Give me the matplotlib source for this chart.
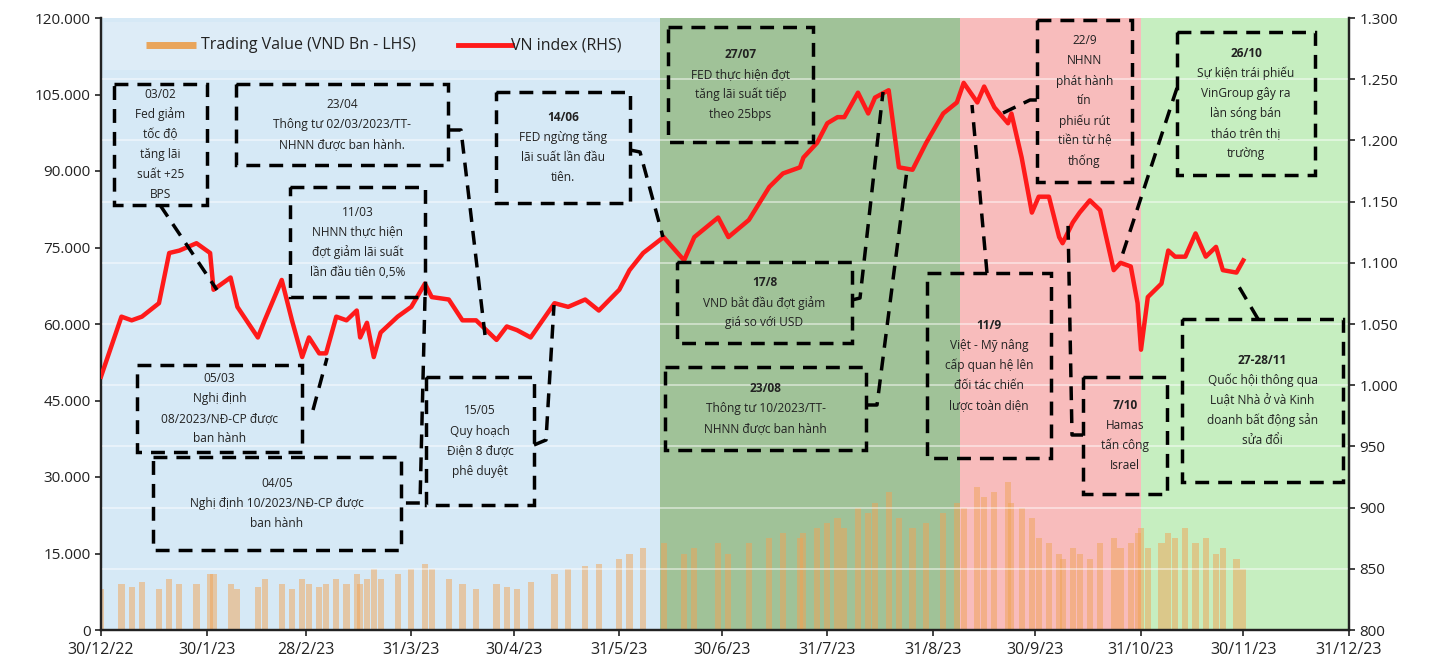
import matplotlib
matplotlib.use('Agg')
import matplotlib.pyplot as plt
import pandas as pd
from matplotlib.patches import Rectangle
from matplotlib.lines import Line2D

plt.rcParams['font.family'] = ['Open Sans', 'DejaVu Sans']

# ---------------- data ----------------
dates = ['2022-12-30', '2023-01-05', '2023-01-08', '2023-01-11', '2023-01-16', '2023-01-19', '2023-01-22',
         '2023-01-27', '2023-01-31',
         '2023-02-01', '2023-02-06', '2023-02-08', '2023-02-14', '2023-02-16', '2023-02-21', '2023-02-24',
         '2023-02-27',
         '2023-03-01', '2023-03-04', '2023-03-06', '2023-03-09', '2023-03-12', '2023-03-15', '2023-03-16',
         '2023-03-18', '2023-03-20', '2023-03-22', '2023-03-27', '2023-03-31',
         '2023-04-04', '2023-04-06', '2023-04-11', '2023-04-15', '2023-04-19', '2023-04-25', '2023-04-28',
         '2023-05-01', '2023-05-05', '2023-05-12', '2023-05-16', '2023-05-21', '2023-05-25', '2023-05-31',
         '2023-06-03', '2023-06-07', '2023-06-13', '2023-06-19', '2023-06-22', '2023-06-29',
         '2023-07-02', '2023-07-08', '2023-07-14', '2023-07-18', '2023-07-23', '2023-07-24', '2023-07-28',
         '2023-07-31',
         '2023-08-03', '2023-08-05', '2023-08-09', '2023-08-12', '2023-08-14', '2023-08-18', '2023-08-21',
         '2023-08-25', '2023-08-29',
         '2023-09-03', '2023-09-07', '2023-09-09', '2023-09-13', '2023-09-15', '2023-09-18', '2023-09-22',
         '2023-09-23', '2023-09-26', '2023-09-29',
         '2023-10-01', '2023-10-04', '2023-10-07', '2023-10-08', '2023-10-11', '2023-10-13', '2023-10-16',
         '2023-10-19', '2023-10-23', '2023-10-25', '2023-10-28', '2023-10-30', '2023-10-31',
         '2023-11-02', '2023-11-06', '2023-11-08', '2023-11-10', '2023-11-13', '2023-11-16', '2023-11-19',
         '2023-11-22', '2023-11-24', '2023-11-28', '2023-11-30']

vnindex = [1007, 1056, 1053, 1056, 1067, 1108, 1110, 1116, 1108,
           1078, 1088, 1064, 1039, 1053, 1086, 1053, 1023,
           1039, 1026, 1026, 1056, 1053, 1061, 1039, 1051, 1023, 1043, 1056, 1064,
           1083, 1072, 1070, 1053, 1053, 1037, 1048,
           1045, 1039, 1067, 1064, 1070, 1061, 1078,
           1094, 1108, 1121, 1102, 1121, 1137,
           1121, 1135, 1162, 1173, 1178, 1186, 1198, 1214,
           1219, 1219, 1239, 1222, 1235, 1241, 1178, 1176, 1198,
           1222, 1231, 1247, 1231, 1244, 1227, 1214, 1222, 1186, 1141,
           1154, 1154, 1121, 1116, 1133, 1141, 1151, 1143, 1094, 1100, 1097, 1067, 1029,
           1072, 1083, 1110, 1105, 1105, 1124, 1105, 1113, 1094, 1092, 1102]

trading_value = [8000, 9000, 8500, 9500, 8000, 10000, 9000, 9000, 11000,
                 11000, 9000, 8000, 8500, 10000, 9000, 8000, 10000,
                 9000, 8500, 9000, 10000, 9000, 11000, 9000, 10000, 12000, 10000, 11000, 12000,
                 13000, 12000, 10000, 9000, 8000, 9000, 8500,
                 8000, 9500, 11000, 12000, 12500, 13000, 14000,
                 15000, 16000, 17000, 15000, 16000, 17000,
                 15000, 17000, 18000, 19000, 18000, 19000, 20000, 21000,
                 22000, 20000, 24000, 23000, 25000, 27000, 22000, 20000, 21000,
                 23000, 25000, 24000, 28000, 26000, 27000, 29000, 25000, 24000, 22000,
                 18000, 17000, 15000, 14000, 16000, 15000, 14000, 17000, 18000, 16000, 17000, 19000, 20000,
                 16000, 17000, 19000, 18000, 20000, 17000, 18000, 15000, 16000, 14000, 12000]

x_tick_dates = ['2022-12-30', '2023-01-30', '2023-02-28', '2023-03-31', '2023-04-30', '2023-05-31',
                '2023-06-30', '2023-07-31', '2023-08-31', '2023-09-30', '2023-10-31', '2023-11-30',
                '2023-12-31']
x_tick_labels = ['30/12/22', '30/1/23', '28/2/23', '31/3/23', '30/4/23', '31/5/23', '30/6/23',
                 '31/7/23', '31/8/23', '30/9/23', '31/10/23', '30/11/23', '31/12/23']
left_ticks = [0, 15000, 30000, 45000, 60000, 75000, 90000, 105000, 120000]
left_tick_labels = ['0', '15.000', '30.000', '45.000', '60.000', '75.000', '90.000', '105.000', '120.000']
right_ticks = [800, 850, 900, 950, 1000, 1050, 1100, 1150, 1200, 1250, 1300]
right_tick_labels = ['800', '850', '900', '950', '1.000', '1.050', '1.100', '1.150', '1.200', '1.250', '1.300']

phase_starts = ['2022-12-30', '2023-06-12', '2023-09-08', '2023-10-31']
phase_ends = ['2023-06-12', '2023-09-08', '2023-10-31', '2023-12-31']
phase_colors = ['#d6e9f6', '#a0c298', '#f8bcbc', '#c6eec0']

legend_labels = ['Trading Value (VND Bn - LHS)', 'VN index (RHS)']

event_texts = [
    '03/02\nFed giảm\ntốc độ\ntăng lãi\nsuất +25\nBPS',
    '23/04\nThông tư 02/03/2023/TT-\nNHNN được ban hành.',
    '11/03\nNHNN thực hiện\nđợt giảm lãi suất\nlần đầu tiên 0,5%',
    '14/06\nFED ngừng tăng\nlãi suất lần đầu\ntiên.',
    '05/03\nNghị định\n08/2023/NĐ-CP được\nban hành',
    '04/05\nNghị định 10/2023/NĐ-CP được\nban hành',
    '15/05\nQuy hoạch\nĐiện 8 được\nphê duyệt',
    '27/07\nFED thực hiện đợt\ntăng lãi suất tiếp\ntheo 25bps',
    '17/8\nVND bắt đầu đợt giảm\ngiá so với USD',
    '23/08\nThông tư 10/2023/TT-\nNHNN được ban hành',
    '11/9\nViệt - Mỹ nâng\ncấp quan hệ lên\nđối tác chiến\nlược toàn diện',
    '22/9\nNHNN\nphát hành\ntín\nphiếu rút\ntiền từ hệ\nthống',
    '7/10\nHamas\ntấn công\nIsrael',
    '26/10\nSự kiện trái phiếu\nVinGroup gây ra\nlàn sóng bán\ntháo trên thị\ntrường',
    '27-28/11\nQuốc hội thông qua\nLuật Nhà ở và Kinh\ndoanh bất động sản\nsửa đổi',
]

# ---------------- layout (pixels) ----------------
W, H = 1439, 669
fig = plt.figure(figsize=(W / 100, H / 100), dpi=100)
AX_L, AX_R, AX_T, AX_B = 101, 1349, 18, 630
ax = fig.add_axes([AX_L / W, 1 - AX_B / H, (AX_R - AX_L) / W, (AX_B - AX_T) / H])
ax2 = ax.twinx()

d = pd.to_datetime(dates)
xmin, xmax = pd.Timestamp('2022-12-30'), pd.Timestamp('2023-12-31')

for s, e, c in zip(phase_starts, phase_ends, phase_colors):
    ax.axvspan(pd.Timestamp(s), pd.Timestamp(e), color=c, zorder=0, lw=0)

ax.bar(d, trading_value, width=1.8, color='#f0a456', alpha=0.5, zorder=2, lw=0)

ax.set_xlim(xmin, xmax)
ax.set_ylim(0, 120000)
ax.set_yticks(left_ticks)
ax.set_yticklabels(left_tick_labels)
ax.set_xticks(pd.to_datetime(x_tick_dates))
ax.set_xticklabels(x_tick_labels)

ax2.set_ylim(800, 1300)
ax2.set_yticks(right_ticks)
ax2.set_yticklabels(right_tick_labels)
for t in right_ticks[1:-1]:
    ax2.axhline(t, color='white', alpha=0.5, lw=1.3, zorder=1)
ax2.plot(d, vnindex, color='#ff1a1a', lw=3.2, zorder=5, solid_joinstyle='round')

for a in (ax, ax2):
    a.spines['top'].set_visible(False)
    for sp in ('left', 'bottom', 'right'):
        a.spines[sp].set_linewidth(1.6)
        a.spines[sp].set_color('#222222')
    a.tick_params(direction='out', length=4, width=1.2, labelsize=11, colors='#222222')
ax.tick_params(axis='x', pad=5, labelsize=11.5)

# ---------------- overlay for annotations ----------------
ov = fig.add_axes([0, 0, 1, 1])
ov.set_xlim(0, W)
ov.set_ylim(H, 0)
ov.axis('off')
ov.patch.set_alpha(0)

# legend
ov.add_patch(Rectangle((104, 22), 556, 48, facecolor='white', alpha=0.18, lw=0))
ov.add_line(Line2D([146, 196], [45, 45], color='#e9a55b', lw=5, solid_capstyle='butt'))
ov.text(201, 45, legend_labels[0], fontsize=11.5, va='center', ha='left', color='#222222')
ov.add_line(Line2D([458, 512], [45, 45], color='#ff1a1a', lw=3.5))
ov.text(511, 45, legend_labels[1], fontsize=11.5, va='center', ha='left', color='#222222')

box_pos = [
    (114, 84, 207, 205),
    (236, 84, 448, 165),
    (290, 187, 425, 297),
    (496, 92, 630, 203),
    (137, 365, 302, 452),
    (153, 457, 401, 550),
    (426, 377, 534, 505),
    (668, 27, 813, 142),
    (677, 262, 852, 343),
    (665, 367, 866, 450),
    (927, 273, 1051, 458),
    (1037, 20, 1132, 182),
    (1083, 377, 1167, 494),
    (1177, 32, 1315, 175),
    (1182, 319, 1343, 482),
]
bold_first = [False, False, False, True, False, False, False, True, True, True, True, False, True, True, True]

dash = (0, (4, 2.6))
for txt, (x0, y0, x1, y1), bf in zip(event_texts, box_pos, bold_first):
    ov.add_patch(Rectangle((x0, y0), x1 - x0, y1 - y0, fill=False, ec='black', lw=2.5,
                           linestyle=dash, zorder=6))
    lines = txt.split('\n')
    n = len(lines)
    step = 20
    cy = (y0 + y1) / 2
    for i, ln in enumerate(lines):
        yy = cy + (i - (n - 1) / 2) * step
        ov.text((x0 + x1) / 2, yy, ln, fontsize=8.6, ha='center', va='center', color='#222222',
                fontweight='bold' if (i == 0 and bf) else 'normal', zorder=7)

connectors = [
    [(160, 205), (217, 290)],
    [(448, 130), (461, 130), (485, 335)],
    [(425, 297), (420, 503), (401, 503)],
    [(313, 410), (327, 358)],
    [(534, 445), (546, 440), (554, 305)],
    [(630, 150), (640, 152), (663, 237)],
    [(852, 300), (860, 298), (883, 92)],
    [(866, 405), (877, 405), (907, 170)],
    [(987, 273), (972, 105)],
    [(1003, 113), (1030, 100), (1037, 100)],
    [(1083, 435), (1072, 435), (1068, 222)],
    [(1177, 88), (1172, 103), (1120, 262)],
    [(1258, 319), (1235, 280)],
]
for pts in connectors:
    xs, ys = zip(*pts)
    ov.add_line(Line2D(xs, ys, color='black', lw=2.5, linestyle=dash, zorder=6))

fig.savefig('out.png', dpi=100)
